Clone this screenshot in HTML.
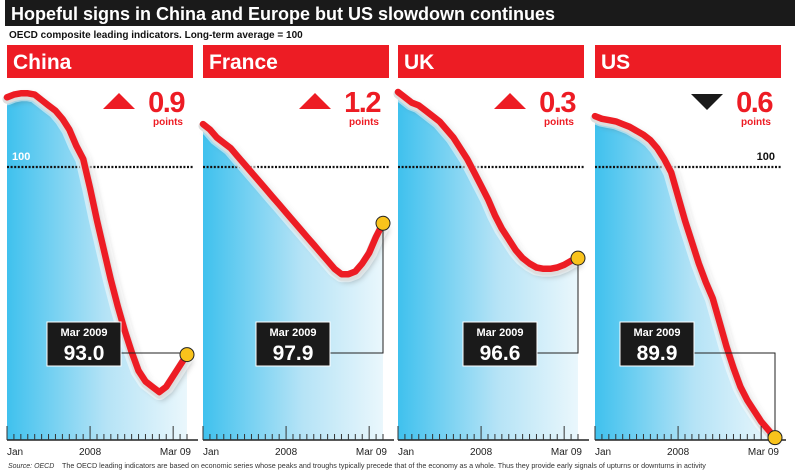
<!DOCTYPE html>
<html><head><meta charset="utf-8"><style>
body{margin:0;background:#fff;font-family:"Liberation Sans",sans-serif}
svg{display:block}
</style></head><body>
<svg id="c" width="800" height="471" xmlns="http://www.w3.org/2000/svg">
<defs>
<linearGradient id="g" x1="0" x2="1" y1="0" y2="0"><stop offset="0" stop-color="#3fc1ee"/><stop offset="0.55" stop-color="#b5e3f6"/><stop offset="1" stop-color="#eaf7fc"/></linearGradient>
<filter id="sh" x="-20%" y="-20%" width="140%" height="140%"><feGaussianBlur stdDeviation="3"/></filter>
</defs>
<rect x="5" y="0" width="790" height="26" fill="#1a1a1a"/>
<text x="11" y="20" fill="#fff" font-size="18" font-weight="bold">Hopeful signs in China and Europe but US slowdown continues</text>
<text x="9" y="38" fill="#111" font-size="10" font-weight="bold">OECD composite leading indicators. Long-term average = 100</text>
<g id="panels"></g>
<text x="8" y="468" font-size="7" font-style="italic" fill="#333">Source: OECD</text>
<text x="62" y="468" font-size="7.2" fill="#333">The OECD leading indicators are based on economic series whose peaks and troughs typically precede that of the economy as a whole. Thus they provide early signals of upturns or downturns in activity</text>
</svg>
<script>
const countries=["China","France","UK","US"];
const changes=["0.9","1.2","0.3","0.6"];
const directions=["up","up","up","down"];
const latest=["93.0","97.9","96.6","89.9"];
const chinaVals=[102.6,102.7,102.75,102.75,102.7,102.5,102.3,102.1,101.8,101.4,100.8,100.3,99.2,98.0,96.9,95.8,94.8,93.9,93.1,92.4,92.0,91.8,91.6,91.8,92.2,92.6,93.0];
const franceVals=[101.6,101.4,101.1,100.9,100.7,100.4,100.1,99.8,99.5,99.2,98.9,98.6,98.3,98.0,97.7,97.4,97.1,96.8,96.5,96.2,96.0,96.0,96.1,96.4,96.8,97.4,97.9];
const ukVals=[102.8,102.6,102.4,102.3,102.1,101.9,101.7,101.4,101.1,100.7,100.3,99.8,99.3,98.8,98.2,97.7,97.3,96.9,96.6,96.4,96.25,96.2,96.2,96.25,96.35,96.5,96.6];
const usVals=[101.9,101.8,101.75,101.7,101.6,101.5,101.35,101.2,101.0,100.7,100.3,99.8,98.9,98.0,97.2,96.4,95.7,95.1,94.2,93.3,92.5,91.8,91.3,90.9,90.5,90.2,89.9];
const tickLabels=["Jan","2008","Mar 09"];
const series=[chinaVals,franceVals,ukVals,usVals];
const NS="http://www.w3.org/2000/svg";
const panelX=[7,203,398,595], PW=186, BASE=440;
function yS(v){return 167-(v-100)*26.8;}
function xS(p,i){return panelX[p]+i*(180/26);}
function mk(tag,attrs,parent){const e=document.createElementNS(NS,tag);for(const k in attrs)e.setAttribute(k,attrs[k]);parent.appendChild(e);return e;}
const root=document.getElementById('panels');
const boxX=[47,256,463,620];
series.forEach((vals,p)=>{
  const g=mk('g',{},root);
  
  
  const x0=panelX[p];
  const hd=mk('rect',{x:x0,y:45,width:PW,height:33,fill:'#ed1c24'},g);
  
  
  const ht=mk('text',{x:x0+6,y:69,fill:'#fff','font-size':21,'font-weight':'bold'},g);ht.textContent=countries[p];
  
  
  const pts=vals.map((v,i)=>[xS(p,i),yS(v)]);
  let d='M'+pts.map(q=>q[0].toFixed(1)+','+q[1].toFixed(1)).join(' L');
  const area=mk('path',{d:d+` L${pts[pts.length-1][0]},${BASE} L${x0},${BASE} Z`,fill:'url(#g)'},g);
  
  
  const dl=mk('line',{x1:x0,x2:x0+PW,y1:yS(100),y2:yS(100),stroke:'#111','stroke-width':2.2,'stroke-dasharray':'2 1.6'},g);
  
  
  mk('path',{d:d,fill:'none',stroke:'#555','stroke-width':8,opacity:0.35,filter:'url(#sh)',transform:'translate(3,4)'},g);
  mk('path',{d:d,fill:'none',stroke:'#fff','stroke-width':16,'stroke-linecap':'round','stroke-linejoin':'round',opacity:0.5},g);
  mk('path',{d:d,fill:'none',stroke:'#ddd','stroke-width':9,'stroke-linecap':'round','stroke-linejoin':'round',transform:'translate(0,2)'},g);
  const ln=mk('path',{d:d,fill:'none',stroke:'#ed1c24','stroke-width':6.5,'stroke-linecap':'round','stroke-linejoin':'round'},g);
  
  
  mk('line',{x1:x0,x2:x0+PW+5,y1:BASE,y2:BASE,stroke:'#222','stroke-width':1.5},g);
  for(let i=0;i<=26;i++){const big=(i===0||i===12||i===24);mk('line',{x1:xS(p,i),x2:xS(p,i),y1:BASE,y2:BASE-(big?14:6),stroke:'#333','stroke-width':1},g);}
  [[0,'start'],[12,'middle'],[26,'end']].forEach((t,k)=>{const tx=mk('text',{x:k==0?x0:(k==2?xS(p,26)+4:xS(p,12)),y:455,'font-size':10,fill:'#222','text-anchor':t[1]},g);tx.textContent=tickLabels[k];
    
    });
  const up=directions[p]==='up';
  const tx0=x0+96;
  mk('polygon',{points:up?`${tx0},109 ${tx0+32},109 ${tx0+16},93`:`${tx0},94 ${tx0+32},94 ${tx0+16},110`,fill:up?'#ed1c24':'#1a1a1a'},g);
  const ch=mk('text',{x:x0+PW-9,y:112,'font-size':29,'font-weight':'bold',fill:'#ed1c24','text-anchor':'end','letter-spacing':'-1.5'},g);ch.textContent=changes[p];
  
  
  const pt=mk('text',{x:x0+PW-10,y:125,'font-size':10,'font-weight':'bold',fill:'#ed1c24','text-anchor':'end'},g);pt.textContent='points';
  const e=pts[pts.length-1];
  const bx=boxX[p],by=322;
  mk('polyline',{points:`${bx+74},${by+31} ${e[0]},${by+31} ${e[0]},${e[1]}`,fill:'none',stroke:'#222','stroke-width':1},g);
  const bxr=mk('rect',{x:bx,y:by,width:74,height:44,fill:'#1a1a1a',stroke:'#fff','stroke-width':1},g);
  
  
  const t1=mk('text',{x:bx+37,y:by+14,'font-size':11,'font-weight':'bold',fill:'#fff','text-anchor':'middle'},g);t1.textContent='Mar 2009';
  const t2=mk('text',{x:bx+37,y:by+38,'font-size':21,'font-weight':'bold',fill:'#fff','text-anchor':'middle'},g);t2.textContent=latest[p];
  const dot=mk('circle',{cx:e[0],cy:e[1],r:7,fill:'#f9c31c',stroke:'#222','stroke-width':1},g);
  
  
});
const svg=document.getElementById('c');
const l1=mk('text',{x:12,y:160,'font-size':11,'font-weight':'bold',fill:'#fff'},svg);l1.textContent='100';


const l2=mk('text',{x:775,y:160,'font-size':11,'font-weight':'bold',fill:'#111','text-anchor':'end'},svg);l2.textContent='100';


</script>
</body></html>
